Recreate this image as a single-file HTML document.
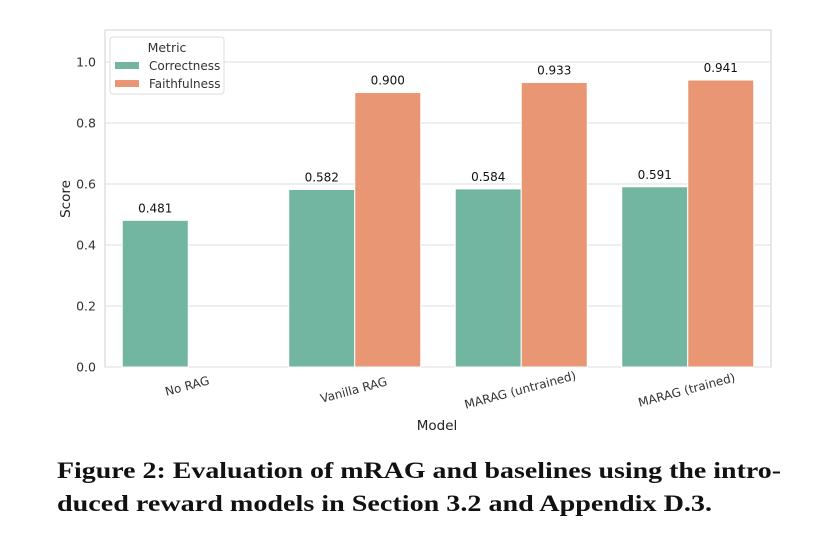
<!DOCTYPE html>
<html><head><meta charset="utf-8"><style>
body{margin:0;background:#fff;width:836px;height:547px;overflow:hidden;font-family:"Liberation Sans","DejaVu Sans",sans-serif}
</style></head><body>
<svg id="chart" width="836" height="450" style="position:absolute;left:0;top:0" font-family="DejaVu Sans, Liberation Sans, sans-serif"></svg>
<svg width="836" height="97" style="position:absolute;left:0;top:450px" font-family="Liberation Serif, serif" font-weight="bold" font-size="23.5" fill="#111">
<text x="57" y="28" textLength="724" lengthAdjust="spacingAndGlyphs">Figure 2: Evaluation of mRAG and baselines using the intro-</text>
<text x="57" y="61" textLength="655" lengthAdjust="spacingAndGlyphs">duced reward models in Section 3.2 and Appendix D.3.</text>
</svg>
<script>
const categories=["No RAG","Vanilla RAG","MARAG (untrained)","MARAG (trained)"];
const correctness=[0.481,0.582,0.584,0.591];
const faithfulness=[null,0.900,0.933,0.941];
const yTicks=[0.0,0.2,0.4,0.6,0.8,1.0];
const NS="http://www.w3.org/2000/svg";
const svg=document.getElementById('chart');
const L=105,R=771,T=30,B=367,YMAX=1.105;
const y=v=>B-(v/YMAX)*(B-T);
const step=(R-L)/categories.length;
const xc=i=>L+step*(i+0.5);
const bw=66;
function mk(t,a,p){const e=document.createElementNS(NS,t);for(const k in a)e.setAttribute(k,a[k]);(p||svg).appendChild(e);return e;}
mk('rect',{x:L,y:T,width:R-L,height:B-T,fill:'#fff',stroke:'#d0d0d0','stroke-width':1});
yTicks.forEach(v=>{
 const g=mk('line',{x1:L,x2:R,y1:y(v),y2:y(v),stroke:'#dcdcdc','stroke-width':1});
 
 
 const t=mk('text',{x:L-9,y:y(v)+4.5,'text-anchor':'end','font-size':12.5,fill:'#333'});
 t.textContent=v.toFixed(1);
 
 
});
const series=[[correctness,'#72b6a1',-1,'correctness'],[faithfulness,'#e99675',0,'faithfulness']];
series.forEach(([vals,col,off,nm])=>{
 vals.forEach((v,i)=>{
  if(v==null)return;
  const x=xc(i)+off*bw;
  const r=mk('rect',{x:x,y:y(v),width:bw,height:B-y(v),fill:col,stroke:'#fff','stroke-width':1});
  
  
  const t=mk('text',{x:x+bw/2,y:y(v)-8,'text-anchor':'middle','font-size':12,fill:'#111'});
  t.textContent=v.toFixed(3);
  
  
 });
});
categories.forEach((c,i)=>{
 const yy=i===0?390:394;
 const t=mk('text',{x:xc(i),y:yy,'text-anchor':'middle','font-size':12,fill:'#333',transform:`rotate(-15 ${xc(i)} ${yy})`});
 t.textContent=c;
 
 
});
const xt=mk('text',{x:437,y:430,'text-anchor':'middle','font-size':13.5,fill:'#222'});xt.textContent='Model';


const yt=mk('text',{x:70,y:199,'text-anchor':'middle','font-size':13.5,fill:'#222',transform:'rotate(-90 70 199)'});yt.textContent='Score';


const lg=mk('g',{});


mk('rect',{x:110,y:37,width:114,height:57,fill:'#fff',stroke:'#dddddd',rx:3},lg);
const lt=mk('text',{x:167,y:52,'text-anchor':'middle','font-size':12.5,fill:'#333'},lg);lt.textContent='Metric';
[['Correctness','#72b6a1',70],['Faithfulness','#e99675',88]].forEach(([n,c,yy])=>{
 const e=mk('g',{},lg);
 
 
 mk('rect',{x:115,y:yy-8,width:24,height:7,fill:c},e);
 const t=mk('text',{x:149,y:yy,'font-size':12,fill:'#333'},e);t.textContent=n;
});
</script>
</body></html>
